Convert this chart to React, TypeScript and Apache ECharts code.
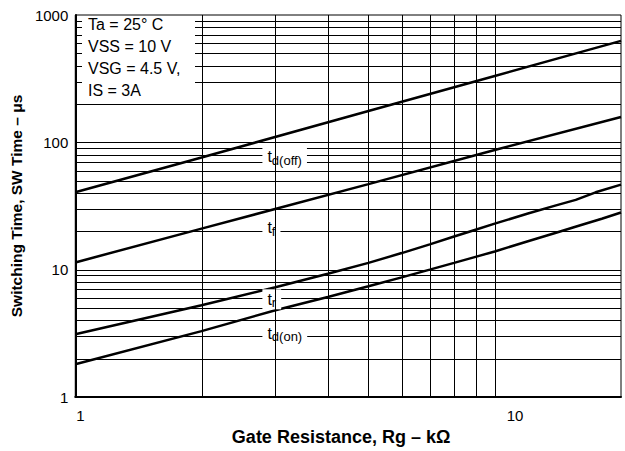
import React, { useEffect, useRef } from 'react';
import * as echarts from 'echarts';

// ---- data ----
const xGrid = [2, 3, 4, 5, 6, 7, 8, 9, 10];
const yGrid = [2, 3, 4, 5, 6, 7, 8, 9, 10, 20, 30, 40, 50, 60, 70, 80, 90, 100, 200, 300, 400, 500, 600, 700, 800, 900];
const xMin = 1;
const xMax = 20;
const yMin = 1;
const yMax = 1000;

const tdOffX = [1, 2, 5, 10, 20];
const tdOffY = [40.5, 76, 176, 332, 626];

const tfX = [1, 2, 5, 10, 20];
const tfY = [11.4, 21, 47, 87, 158];

const trX = [1, 2, 3, 4, 5, 6, 7, 8, 9, 10, 12, 14, 15.6, 17.4, 20];
const trY = [3.11, 5.25, 7.27, 9.3, 11.3, 13.5, 15.8, 18.2, 20.6, 23, 27.6, 32, 35.3, 40.5, 46.5];

const tdOnX = [1, 2, 3, 4, 5, 6, 7, 8, 9, 10, 12, 14, 16, 18, 20];
const tdOnY = [1.81, 3.29, 4.8, 6.1, 7.4, 8.7, 10, 11.3, 12.6, 13.9, 16.7, 19.5, 22.3, 25.1, 28.1];

const curveLabelSubs = ['d(off)', 'f', 'r', 'd(on)'];
const curveLabelX = 3;
const curveLabelY = [77, 21.4, 5.85, 3.17];

const conditions = ['Ta = 25° C', 'VSS = 10 V', 'VSG = 4.5 V,', 'IS = 3A'];

const FONT = '"Liberation Sans", Arial, Helvetica, sans-serif';

const zip = (xs: number[], ys: number[]) => xs.map((x, i) => [x, ys[i]]);

export default function App() {
  const ref = useRef<HTMLDivElement>(null);

  useEffect(() => {
    if (!ref.current) return;
    const chart = echarts.init(ref.current, undefined, { renderer: 'svg' });

    const crisp = (v: number) => Math.round(v) + 0.5;

    const curve = (name: string, xs: number[], ys: number[]) => ({
      name,
      type: 'line',
      data: zip(xs, ys),
      showSymbol: false,
      symbol: 'none',
      z: 3,
      silent: true,
      lineStyle: { color: '#000', width: 2.5 },
    });

    const option: any = {
      animation: false,
      textStyle: { fontFamily: FONT, color: '#000' },
      grid: {
        left: 74,
        right: 4,
        top: 15,
        bottom: 53,
        show: true,
        borderColor: '#000',
        borderWidth: 1,
        backgroundColor: 'transparent',
      },
      xAxis: {
        type: 'log',
        logBase: 10,
        min: xMin,
        max: xMax,
        name: 'Gate Resistance, Rg – kΩ',
        nameLocation: 'middle',
        nameGap: 31,
        nameTextStyle: {
          fontFamily: FONT,
          fontSize: 18,
          fontWeight: 'bold',
          color: '#000',
          padding: [0, 14, 0, 0],
        },
        axisLine: { show: true, lineStyle: { color: '#000', width: 2 } },
        axisTick: { show: false },
        splitLine: { show: false },
        minorSplitLine: { show: false },
        axisLabel: {
          margin: 11,
          align: 'left',
          fontFamily: FONT,
          fontSize: 15,
          color: '#000',
          formatter: (v: number) => {
            if (Math.abs(v - 1) < 1e-6) return '{a|1}';
            if (Math.abs(v - 10) < 1e-6) return '{b|10}';
            return '';
          },
          rich: {
            a: { fontFamily: FONT, fontSize: 15, color: '#000', padding: [0, 0, 0, 1] },
            b: { fontFamily: FONT, fontSize: 15, color: '#000', padding: [0, 0, 0, 12] },
          },
        },
      },
      yAxis: {
        type: 'log',
        logBase: 10,
        min: yMin,
        max: yMax,
        name: 'Switching Time, SW Time – μs',
        nameLocation: 'middle',
        nameGap: 36,
        nameTextStyle: { fontFamily: FONT, fontSize: 15.5, fontWeight: 'bold', color: '#000' },
        axisLine: { show: true, lineStyle: { color: '#000', width: 2 } },
        axisTick: { show: false },
        splitLine: { show: false },
        minorSplitLine: { show: false },
        axisLabel: {
          margin: 7,
          fontFamily: FONT,
          fontSize: 15,
          color: '#000',
          formatter: (v: number) => String(Math.round(v)),
        },
      },
      series: [
        {
          name: 'hgrid',
          type: 'custom',
          z: 1,
          silent: true,
          clip: false,
          data: yGrid.map((v) => [xMin, v]),
          renderItem: (_p: any, api: any) => {
            const v = api.value(1);
            const a = api.coord([xMin, v]);
            const b = api.coord([xMax, v]);
            const y = crisp(a[1]);
            return {
              type: 'line',
              shape: { x1: a[0], y1: y, x2: b[0], y2: y },
              style: { stroke: '#000', lineWidth: 1 },
            };
          },
        },
        curve('td(off)', tdOffX, tdOffY),
        curve('tf', tfX, tfY),
        curve('tr', trX, trY),
        curve('td(on)', tdOnX, tdOnY),
        {
          name: 'labels',
          type: 'scatter',
          z: 4,
          silent: true,
          symbolSize: 1,
          itemStyle: { color: 'rgba(255,255,255,0)', opacity: 1 },
          data: curveLabelY.map((y) => [curveLabelX, y]),
          label: {
            show: true,
            position: 'inside',
            align: 'left',
            verticalAlign: 'middle',
            offset: [-13, 0],
            color: '#000',
            opacity: 1,
            textBorderWidth: 0,
            backgroundColor: '#fff',
            padding: [1, 5, 1, 5],
            formatter: (p: any) => '{t|t}{s|' + curveLabelSubs[p.dataIndex] + '}',
            rich: {
              t: { fontFamily: FONT, fontSize: 16, color: '#000', textBorderWidth: 0, lineHeight: 18 },
              s: { fontFamily: FONT, fontSize: 13, color: '#000', textBorderWidth: 0, padding: [7, 0, 0, 0], lineHeight: 14 },
            },
          },
        },
        {
          name: 'vgrid',
          type: 'custom',
          z: 5,
          silent: true,
          clip: false,
          data: xGrid.map((v) => [v, yMin]),
          renderItem: (_p: any, api: any) => {
            const v = api.value(0);
            const a = api.coord([v, yMin]);
            const b = api.coord([v, yMax]);
            const x = crisp(a[0]);
            return {
              type: 'line',
              shape: { x1: x, y1: a[1], x2: x, y2: b[1] },
              style: { stroke: '#000', lineWidth: 1 },
            };
          },
        },
      ],
      graphic: [
        {
          type: 'rect',
          z: 100,
          silent: true,
          shape: { x: 82, y: 17, width: 113, height: 80 },
          style: { fill: '#fff' },
        },
        ...conditions.map((t, i) => ({
          type: 'text',
          z: 101,
          silent: true,
          x: 88,
          y: 24 + i * 22,
          style: {
            text: t,
            fontFamily: FONT,
            fontSize: 16,
            fill: '#000',
            verticalAlign: 'middle',
            align: 'left',
          },
        })),
      ],
    };

    chart.setOption(option);
    return () => chart.dispose();
  }, []);

  return (
    <div
      ref={ref}
      style={{ position: 'fixed', left: 0, top: 0, width: 625, height: 451, background: '#fff' }}
    />
  );
}
